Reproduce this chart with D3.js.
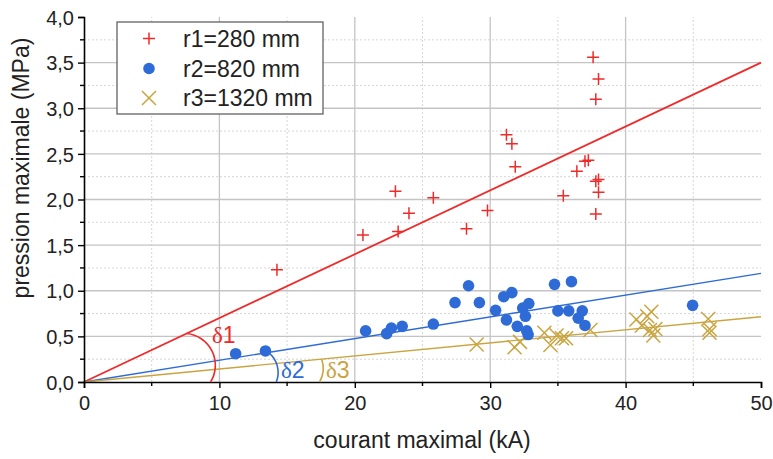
<!DOCTYPE html>
<html><head><meta charset="utf-8">
<script src="https://cdn.jsdelivr.net/npm/d3@7"></script>
<style>
html,body{margin:0;padding:0;background:#fff;}
svg{display:block;font-family:Arial,"Liberation Sans",sans-serif;}
</style></head>
<body>
<svg id="chart" width="773" height="459"></svg>
<script>
// ---------- data ----------
const seriesNames = ["r1=280 mm", "r2=820 mm", "r3=1320 mm"];
const r1X = [14.25,20.6,23.0,23.2,24.0,25.8,28.25,29.8,31.2,31.6,31.85,35.4,36.4,37.0,37.25,37.6,37.8,38.0,37.8,38.0,38.0,37.8];
const r1Y = [1.23,1.61,2.09,1.65,1.85,2.02,1.68,1.88,2.71,2.61,2.36,2.04,2.31,2.42,2.43,3.56,3.10,3.32,2.20,2.22,2.08,1.84];
const r2X = [11.2,13.4,20.8,22.35,22.7,23.5,25.8,27.4,28.4,29.2,30.4,31.0,31.6,31.2,32.0,32.4,32.6,32.85,32.7,32.8,34.75,36.0,35.0,35.8,36.8,36.5,37.0,44.95];
const r2Y = [0.31,0.34,0.56,0.53,0.59,0.61,0.635,0.87,1.055,0.87,0.785,0.935,0.98,0.68,0.61,0.81,0.72,0.86,0.56,0.52,1.07,1.10,0.78,0.78,0.78,0.70,0.62,0.84];
const r3X = [29.0,31.8,32.2,34.0,34.45,34.9,35.3,35.6,37.4,40.8,41.2,41.6,41.9,41.8,42.05,42.2,46.1,46.2,46.2];
const r3Y = [0.41,0.38,0.44,0.54,0.405,0.51,0.48,0.48,0.57,0.685,0.62,0.72,0.77,0.57,0.51,0.58,0.69,0.58,0.54];
const fitSlopes = [0.07, 0.0238, 0.0143];       // MPa per kA, lines through origin
const xTicks = [0,10,20,30,40,50];
const yTicks = [0,0.5,1.0,1.5,2.0,2.5,3.0,3.5,4.0];
const xMinor = [5,15,25,35,45];
const yMinor = [0.25,0.75,1.25,1.75,2.25,2.75,3.25,3.75];
const angleLabels = ["δ1","δ2","δ3"];
const arcStartX = [7.6, 13.6, 17.55];   // kA on the fitted line
const arcEndX = [9.35, 14.2, 17.4];     // kA on the x axis
const arcRadius = [32, 25, 28];
const xTitle = "courant maximal (kA)";
const yTitle = "pression maximale (MPa)";

// ---------- style ----------
const colors = ["#ee2b2b", "#2e6bd6", "#c9a43f"];
const svg = d3.select("#chart");
const m = {l:84, r:12, t:17, b:77};
const x = d3.scaleLinear().domain([0,50]).range([m.l, 761]);
const y = d3.scaleLinear().domain([0,4]).range([382, m.t]);
const fmt = d => d3.format(".1f")(d).replace(".", ",");

// grid
const g = svg.append("g");
g.selectAll(".vmin").data(xMinor).join("line")
  .attr("x1", d=>x(d)).attr("x2", d=>x(d)).attr("y1", y(0)).attr("y2", y(4))
  .attr("stroke", "#d6d6d6").attr("stroke-width", 1).attr("stroke-dasharray", "2,2");
g.selectAll(".hmin").data(yMinor).join("line")
  .attr("x1", x(0)).attr("x2", x(50)).attr("y1", d=>y(d)).attr("y2", d=>y(d))
  .attr("stroke", "#d6d6d6").attr("stroke-width", 1).attr("stroke-dasharray", "2,2");
g.selectAll(".vmaj").data(xTicks.filter(d=>d>0 && d<50)).join("line")
  .attr("x1", d=>x(d)).attr("x2", d=>x(d)).attr("y1", y(0)).attr("y2", y(4))
  .attr("stroke", "#c4c4c4").attr("stroke-width", 1.3);
g.selectAll(".hmaj").data(yTicks.filter(d=>d>0 && d<4)).join("line")
  .attr("x1", x(0)).attr("x2", x(50)).attr("y1", d=>y(d)).attr("y2", d=>y(d))
  .attr("stroke", "#c4c4c4").attr("stroke-width", 1.3);

// fit lines
fitSlopes.forEach((s,i)=>{
  svg.append("line").attr("x1", x(0)).attr("y1", y(0)).attr("x2", x(50)).attr("y2", y(50*s))
    .attr("stroke", colors[i]).attr("stroke-width", i===0?1.8:1.4);
});

// axes
const xAxis = d3.axisBottom(x).tickValues(xTicks).tickSize(6).tickFormat(d3.format("d"));
const yAxis = d3.axisLeft(y).tickValues(yTicks).tickSize(6).tickFormat(fmt);
const gx = svg.append("g").attr("transform", `translate(0,${y(0)})`).call(xAxis);
const gy = svg.append("g").attr("transform", `translate(${x(0)},0)`).call(yAxis);
[gx, gy].forEach(a=>{
  a.select(".domain").attr("stroke", "#000").attr("stroke-width", 1.6);
  a.selectAll(".tick line").attr("stroke", "#000").attr("stroke-width", 1.4);
  a.selectAll("text").attr("font-size", 20).attr("fill", "#222")
    .attr("font-family", "Arial, 'Liberation Sans', sans-serif");
});
gx.selectAll("text").attr("dy", "0.95em");
gy.selectAll("text").attr("dx", "-1px").attr("dy", "0.36em");
// minor ticks
svg.append("g").selectAll("line").data(xMinor).join("line")
  .attr("x1", d=>x(d)).attr("x2", d=>x(d)).attr("y1", y(0)).attr("y2", y(0)+4)
  .attr("stroke", "#000").attr("stroke-width", 1.4);
svg.append("g").selectAll("line").data(yMinor).join("line")
  .attr("x1", x(0)-4).attr("x2", x(0)).attr("y1", d=>y(d)).attr("y2", d=>y(d))
  .attr("stroke", "#000").attr("stroke-width", 1.4);

// titles
svg.append("text").attr("x", 422).attr("y", 448).attr("text-anchor", "middle")
  .attr("font-size", 23).attr("fill", "#222").text(xTitle);
svg.append("text").attr("transform", "translate(29,168) rotate(-90)").attr("text-anchor", "middle")
  .attr("font-size", 23).attr("fill", "#222").text(yTitle);

// markers
function plus(sel, cx, cy, s, c){
  sel.append("path").attr("d", `M${cx-s},${cy}H${cx+s}M${cx},${cy-s}V${cy+s}`)
    .attr("stroke", c).attr("stroke-width", 1.5).attr("fill", "none");
}
function cross(sel, cx, cy, s, c){
  sel.append("path").attr("d", `M${cx-s},${cy-s}L${cx+s},${cy+s}M${cx-s},${cy+s}L${cx+s},${cy-s}`)
    .attr("stroke", c).attr("stroke-width", 1.5).attr("fill", "none");
}
const pts = svg.append("g");
r3X.forEach((v,i)=>cross(pts, x(v), y(r3Y[i]), 7, colors[2]));
r2X.forEach((v,i)=>pts.append("circle").attr("cx", x(v)).attr("cy", y(r2Y[i])).attr("r", 5.8).attr("fill", colors[1]));
r1X.forEach((v,i)=>plus(pts, x(v), y(r1Y[i]), 6, colors[0]));

// angle arcs
fitSlopes.forEach((s,i)=>{
  const p0 = [x(arcStartX[i]), y(arcStartX[i]*s)];
  const p1 = [x(arcEndX[i]), y(0)];
  svg.append("path").attr("d", `M${p0[0]},${p0[1]}A${arcRadius[i]},${arcRadius[i]} 0 0 1 ${p1[0]},${p1[1]}`)
    .attr("fill", "none").attr("stroke", colors[i]).attr("stroke-width", 1.6);
});
const labelPos = [[212, 343], [281, 378], [326, 378]];
angleLabels.forEach((t,i)=>{
  const tx = svg.append("text").attr("x", labelPos[i][0]).attr("y", labelPos[i][1])
    .attr("font-size", 23).attr("fill", colors[i]);
  tx.append("tspan").attr("font-family", "'Liberation Serif','DejaVu Serif',serif").text(t[0]);
  tx.append("tspan").text(t.slice(1));
});

// legend
const lg = svg.append("g");
lg.append("rect").attr("x", 117).attr("y", 22).attr("width", 206).attr("height", 92)
  .attr("fill", "#fff").attr("stroke", "#555").attr("stroke-width", 1.2);
const rowY = [38.5, 68.5, 98];
seriesNames.forEach((nm,i)=>{
  if(i===0) plus(lg, 149, rowY[i], 6, colors[0]);
  if(i===1) lg.append("circle").attr("cx", 149).attr("cy", rowY[i]).attr("r", 5.8).attr("fill", colors[1]);
  if(i===2) cross(lg, 149, rowY[i], 7, colors[2]);
  lg.append("text").attr("x", 183).attr("y", rowY[i]).attr("dy", "0.36em")
    .attr("font-size", 23).attr("fill", "#222").text(nm);
});
</script>
</body></html>
